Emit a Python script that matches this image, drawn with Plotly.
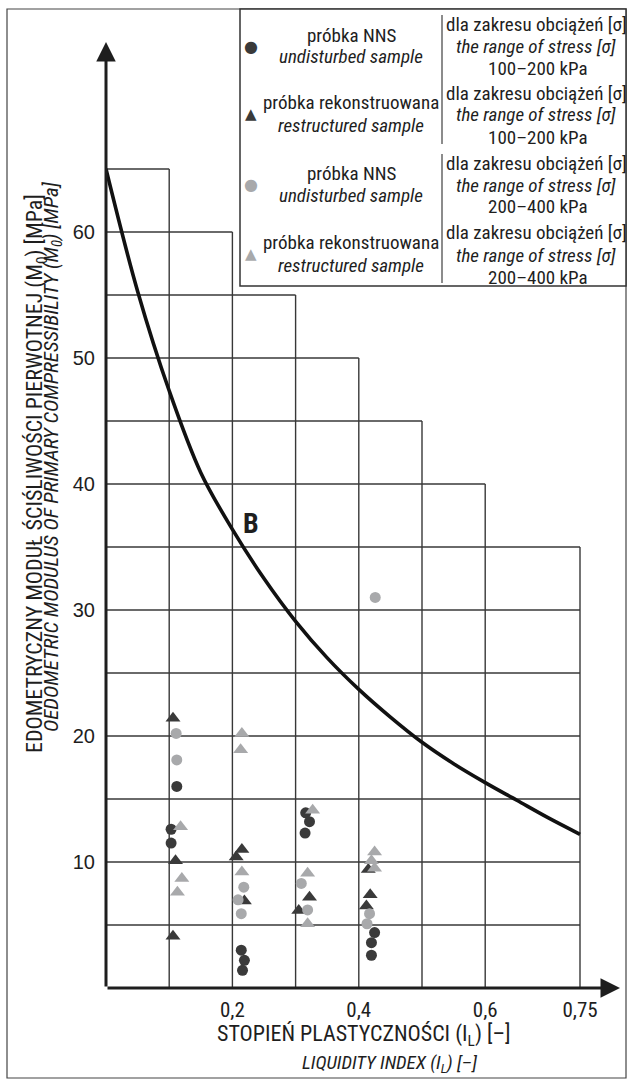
import plotly.graph_objects as go

# ---------------- data ----------------
# dark circles: undisturbed sample (NNS), 100-200 kPa
nns_low_il = [0.112, 0.103, 0.103, 0.214, 0.219, 0.216, 0.316, 0.322, 0.315, 0.425, 0.420, 0.420]
nns_low_m = [16.0, 12.6, 11.5, 3.0, 2.2, 1.4, 13.9, 13.2, 12.3, 4.4, 3.6, 2.6]
# dark triangles: restructured sample, 100-200 kPa
rec_low_il = [0.106, 0.110, 0.106, 0.215, 0.206, 0.219, 0.322, 0.305, 0.415, 0.418, 0.412]
rec_low_m = [21.4, 10.1, 4.1, 11.0, 10.4, 6.9, 7.2, 6.15, 9.4, 7.4, 6.5]
# light circles: undisturbed sample (NNS), 200-400 kPa
nns_high_il = [0.111, 0.112, 0.218, 0.209, 0.214, 0.309, 0.319, 0.426, 0.417, 0.413]
nns_high_m = [20.2, 18.1, 8.0, 7.0, 5.9, 8.3, 6.2, 31.0, 5.9, 5.1]
# light triangles: restructured sample, 200-400 kPa
rec_high_il = [0.118, 0.120, 0.113, 0.215, 0.213, 0.215, 0.327, 0.319, 0.319, 0.425, 0.420, 0.425]
rec_high_m = [12.8, 8.7, 7.6, 20.2, 18.9, 9.2, 14.1, 9.1, 5.1, 10.8, 10.1, 9.5]

# boundary curve B
curve_il = [0.0, 0.05, 0.10, 0.15, 0.20, 0.25, 0.30, 0.35, 0.40, 0.45, 0.50, 0.55, 0.60, 0.65, 0.70, 0.75]
curve_m = [65.0, 55.3, 47.4, 40.9, 36.4, 32.5, 29.1, 26.2, 23.7, 21.5, 19.5, 17.8, 16.3, 14.9, 13.5, 12.2]

# staircase grid
grid_levels = [5, 10, 15, 20, 25, 30, 35, 40, 45, 50, 55, 60, 65]
grid_level_extent = [0.75, 0.75, 0.75, 0.75, 0.75, 0.75, 0.75, 0.6, 0.5, 0.4, 0.3, 0.2, 0.1]
grid_cols = [0.1, 0.2, 0.3, 0.4, 0.5, 0.6, 0.75]
grid_col_height = [65, 60, 55, 50, 45, 40, 35]

x_tickvals = [0.2, 0.4, 0.6, 0.75]
x_ticktext = ["0,2", "0,4", "0,6", "0,75"]
y_tickvals = [10, 20, 30, 40, 50, 60]
y_ticktext = ["10", "20", "30", "40", "50", "60"]

# ---------------- layout constants ----------------
W, H = 629, 1084
ML, MR, MT, MB = 106, 9, 42, 96
PW, PH = W - ML - MR, H - MT - MB
XPX = 632.0   # px per unit IL
YPX = 12.6    # px per MPa
XMAX = PW / XPX
YMAX = PH / YPX

COND = "Liberation Sans Narrow, Roboto Condensed, DejaVu Sans Condensed, Arial Narrow, sans-serif"
REG = "Liberation Sans, Arial, Helvetica, sans-serif"
DARK = "#3a3a3a"
LIGHT = "#a8a9ab"
INK = "#1e1e1e"


def px(xp):
    return (xp - ML) / PW


def py(yp):
    return (H - MB - yp) / PH


def note(xp, yp, text, size, color=INK, family=COND, angle=0):
    return dict(x=px(xp), y=py(yp), xref="paper", yref="paper", text=text, showarrow=False,
                xanchor="center", yanchor="middle", textangle=angle, borderpad=0,
                font=dict(family=family, size=size, color=color))


fig = go.Figure()

# grid lines
gx, gy = [], []
for lev, ext in zip(grid_levels, grid_level_extent):
    gx += [0, ext, None]
    gy += [lev, lev, None]
for col, hgt in zip(grid_cols, grid_col_height):
    gx += [col, col, None]
    gy += [0, hgt, None]
fig.add_trace(go.Scatter(x=gx, y=gy, mode="lines", line=dict(color="#383838", width=1.4),
                         hoverinfo="skip", showlegend=False))

# curve
fig.add_trace(go.Scatter(x=curve_il, y=curve_m, mode="lines",
                         line=dict(color="#111111", width=3.6, shape="spline", smoothing=1.0),
                         showlegend=False))

# points
fig.add_trace(go.Scatter(x=nns_low_il, y=nns_low_m, mode="markers",
                         marker=dict(symbol="circle", size=11, color=DARK), showlegend=False))
fig.add_trace(go.Scatter(x=rec_low_il, y=rec_low_m, mode="markers",
                         marker=dict(symbol="triangle-up", size=13, color=DARK), showlegend=False))
fig.add_trace(go.Scatter(x=nns_high_il, y=nns_high_m, mode="markers",
                         marker=dict(symbol="circle", size=11, color=LIGHT), showlegend=False))
fig.add_trace(go.Scatter(x=rec_high_il, y=rec_high_m, mode="markers",
                         marker=dict(symbol="triangle-up", size=13, color=LIGHT), showlegend=False))

annotations = []
# axes with arrows
annotations.append(dict(x=XMAX, y=0, ax=0, ay=0, xref="x", yref="y", axref="x", ayref="y",
                        text="", showarrow=True, arrowhead=2, arrowsize=1.3, arrowwidth=3,
                        arrowcolor=INK, standoff=0))
annotations.append(dict(x=0, y=YMAX, ax=0, ay=0, xref="x", yref="y", axref="x", ayref="y",
                        text="", showarrow=True, arrowhead=2, arrowsize=1.3, arrowwidth=3,
                        arrowcolor=INK, standoff=0))

# B label
annotations.append(dict(x=0.229, y=36.9, xref="x", yref="y", text="<b>B</b>", showarrow=False,
                        xanchor="center", yanchor="middle",
                        font=dict(family=COND, size=28, color=INK)))

# x title
annotations.append(note(364, 1035, "STOPIEŃ PLASTYCZNOŚCI (I<sub>L</sub>) [–]", 22))
annotations.append(note(389, 1063, "<i>LIQUIDITY INDEX (I<sub>L</sub>) [–]</i>", 19))

# y title
annotations.append(note(37, 474, "EDOMETRYCZNY MODUŁ ŚCIŚLIWOŚCI PIERWOTNEJ (M<sub>0</sub>) [MPa]", 22, angle=-90))
annotations.append(note(52, 457, "<i>OEDOMETRIC MODULUS OF PRIMARY COMPRESSIBILITY (M<sub>0</sub>) [MPa]</i>", 21, angle=-90))

# legend
legend_rows = [
    ("●", DARK, "próbka NNS", "undisturbed sample", "100–200 kPa"),
    ("▲", DARK, "próbka rekonstruowana", "restructured sample", "100–200 kPa"),
    ("●", LIGHT, "próbka NNS", "undisturbed sample", "200–400 kPa"),
    ("▲", LIGHT, "próbka rekonstruowana", "restructured sample", "200–400 kPa"),
]
row_top = [25, 93, 163, 233]
for (sym, col, l1, l2, rng), ty in zip(legend_rows, row_top):
    annotations.append(note(251, ty + 21, sym, 16 if sym == "●" else 15, color=col, family="DejaVu Sans"))
    annotations.append(note(351, ty + 10, l1, 19))
    annotations.append(note(351, ty + 32, "<i>" + l2 + "</i>", 19))
    annotations.append(note(536, ty, "dla zakresu obciążeń [σ]", 19))
    annotations.append(note(536, ty + 22, "<i>the range of stress [σ]</i>", 19))
    annotations.append(note(538, ty + 44, rng, 19))

shapes = [
    # outer frame
    dict(type="rect", xref="paper", yref="paper", x0=px(7), x1=px(626), y0=py(1078), y1=py(9),
         line=dict(color="#444444", width=1.2), layer="below"),
    # legend box
    dict(type="rect", xref="paper", yref="paper", x0=px(240), x1=px(626), y0=py(286), y1=py(9),
         line=dict(color="#333333", width=1.5), fillcolor="white", layer="above"),
    # legend separators
    dict(type="line", xref="paper", yref="paper", x0=px(442), x1=px(442), y0=py(15), y1=py(144),
         line=dict(color="#666666", width=1.5)),
    dict(type="line", xref="paper", yref="paper", x0=px(442), x1=px(442), y0=py(154), y1=py(283),
         line=dict(color="#666666", width=1.5)),
]

fig.update_layout(
    width=W, height=H,
    margin=dict(l=ML, r=MR, t=MT, b=MB),
    paper_bgcolor="white", plot_bgcolor="white",
    showlegend=False,
    xaxis=dict(range=[0, XMAX], showgrid=False, zeroline=False, showline=False,
               tickvals=x_tickvals, ticktext=x_ticktext, ticks="outside", ticklen=3,
               tickcolor="rgba(0,0,0,0)", tickfont=dict(family=COND, size=21, color=INK)),
    yaxis=dict(range=[0, YMAX], showgrid=False, zeroline=False, showline=False,
               tickvals=y_tickvals, ticktext=y_ticktext, ticks="outside", ticklen=6,
               tickcolor="rgba(0,0,0,0)", tickfont=dict(family=REG, size=20, color=INK)),
    annotations=annotations,
    shapes=shapes,
)

fig.write_html("out.html")
